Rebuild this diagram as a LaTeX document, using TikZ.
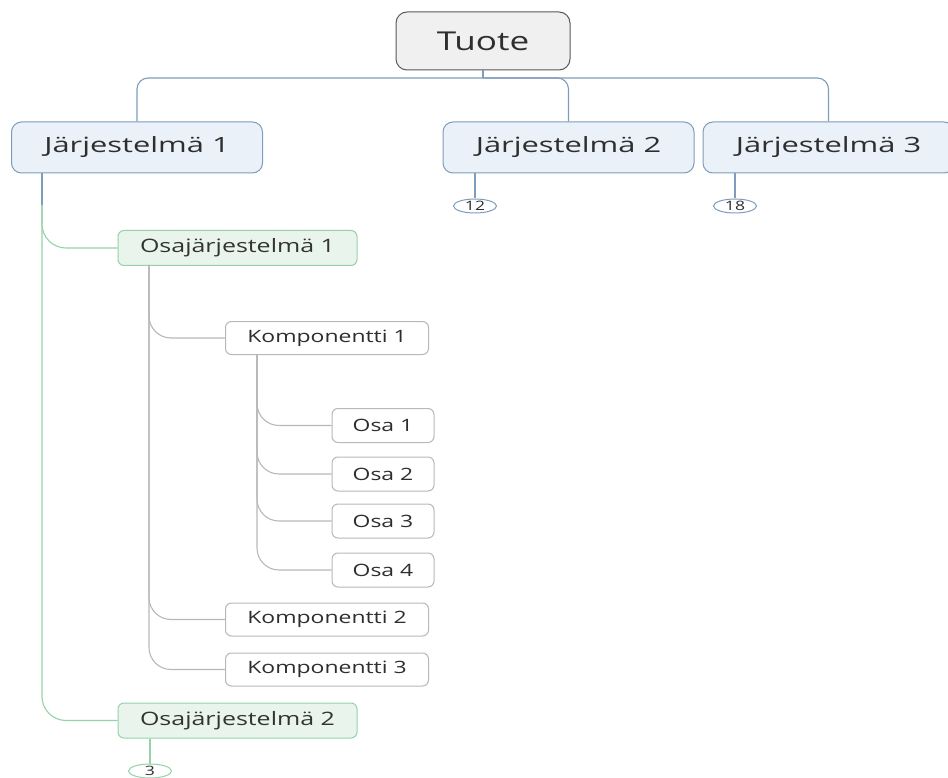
\documentclass[tikz,border=0pt]{standalone}
\usepackage{fontspec}
\setmainfont[FakeStretch=1.35]{Open Sans}
\newfontfamily\sysfont[FakeStretch=1.47]{Open Sans}
\usetikzlibrary{shapes.geometric,calc}
\definecolor{bluefill}{HTML}{EAF1F9}
\definecolor{blueline}{HTML}{7E9CBB}
\definecolor{greenfill}{HTML}{E9F5EC}
\definecolor{greenline}{HTML}{94D2A8}
\definecolor{grayline}{HTML}{B8B8B8}
\definecolor{txt}{HTML}{2E2E2E}
\tikzset{
  rootbox/.style={draw=black!65, line width=1pt, fill=black!6, rounded corners=11pt, minimum width=174pt, minimum height=58pt, inner sep=0pt, text=txt, font=\fontsize{26}{30}\selectfont},
  sysbox/.style={draw=blueline, line width=1pt, fill=bluefill, rounded corners=10pt, minimum width=251pt, minimum height=51pt, inner sep=0pt, text=txt, font=\sysfont\fontsize{21}{25}\selectfont},
  subbox/.style={draw=greenline, line width=1pt, fill=greenfill, rounded corners=6pt, minimum width=239pt, minimum height=35pt, inner sep=0pt, text=black!80, font=\fontsize{18.5}{22}\selectfont},
  compbox/.style={draw=grayline, line width=1pt, fill=white, rounded corners=6pt, minimum width=203pt, minimum height=33pt, inner sep=0pt, text=txt, font=\fontsize{17}{20}\selectfont},
  partbox/.style={draw=grayline, line width=1pt, fill=white, rounded corners=6pt, minimum width=102pt, minimum height=34pt, inner sep=0pt, text=txt, font=\fontsize{17}{20}\selectfont},
  badge/.style={ellipse, draw=#1, line width=1pt, fill=white, minimum width=43pt, minimum height=14pt, inner sep=0pt, text=txt, font=\fontsize{13}{14}\selectfont},
  bconn/.style={draw=blueline, line width=1.1pt},
  gconn/.style={draw=greenline, line width=1.1pt},
  kconn/.style={draw=grayline, line width=1.1pt},
}
\begin{document}
\begin{tikzpicture}[x=1pt,y=-1pt]
\useasboundingbox (0,0) rectangle (948,778);
% connectors first (behind boxes)
\coordinate (bus) at (483,78);
\coordinate (j1t) at (42,173);
\coordinate (j1m) at (42,205);
\coordinate (os1t) at (149,265);
\coordinate (k1t) at (257,354);
% nodes
\node[rootbox] (tuote) at (483,41) {Tuote};
\node[sysbox] (j1) at (137,147.5) {Järjestelmä 1};
\node[sysbox] (j2) at (568.5,147.5) {Järjestelmä 2};
\node[sysbox] (j3) at (828.5,147.5) {Järjestelmä 3};
\node[badge=blueline] (b12) at (475,206) {12};
\node[badge=blueline] (b18) at (735,206) {18};
\node[subbox] (os1) at (237.5,248) {Osajärjestelmä 1};
\node[subbox] (os2) at (237.5,720.5) {Osajärjestelmä 2};
\node[badge=greenline] (b3) at (150,771) {3};
\node[compbox] (k1) at (327,338) {Komponentti 1};
\node[compbox] (k2) at (327,619.5) {Komponentti 2};
\node[compbox] (k3) at (327,669.5) {Komponentti 3};
\node[partbox] (o1) at (383,425.5) {Osa 1};
\node[partbox] (o2) at (383,474) {Osa 2};
\node[partbox] (o3) at (383,521) {Osa 3};
\node[partbox] (o4) at (383,570) {Osa 4};
% connectors
\draw[bconn] (tuote.south) -- (bus);
\draw[bconn, rounded corners=11pt] (bus) -| (j1.north);
\draw[bconn, rounded corners=11pt] (bus) -| (j2.north);
\draw[bconn, rounded corners=11pt] (bus) -| (j3.north);
\draw[bconn] (j2.south -| b12) -- (b12.north);
\draw[bconn] (j3.south -| b18) -- (b18.north);
\draw[bconn] (j1t) -- (j1m);
\draw[gconn, rounded corners=24pt] (j1m) |- (os1.west);
\draw[gconn, rounded corners=24pt] (j1m) |- (os2.west);
\draw[gconn] (os2.south -| b3) -- (b3.north);
\draw[kconn, rounded corners=22pt] (os1t) |- (k1.west);
\draw[kconn, rounded corners=22pt] (os1t) |- (k2.west);
\draw[kconn, rounded corners=22pt] (os1t) |- (k3.west);
\draw[kconn, rounded corners=22pt] (k1t) |- (o1.west);
\draw[kconn, rounded corners=22pt] (k1t) |- (o2.west);
\draw[kconn, rounded corners=22pt] (k1t) |- (o3.west);
\draw[kconn, rounded corners=22pt] (k1t) |- (o4.west);
\end{tikzpicture}
\end{document}
